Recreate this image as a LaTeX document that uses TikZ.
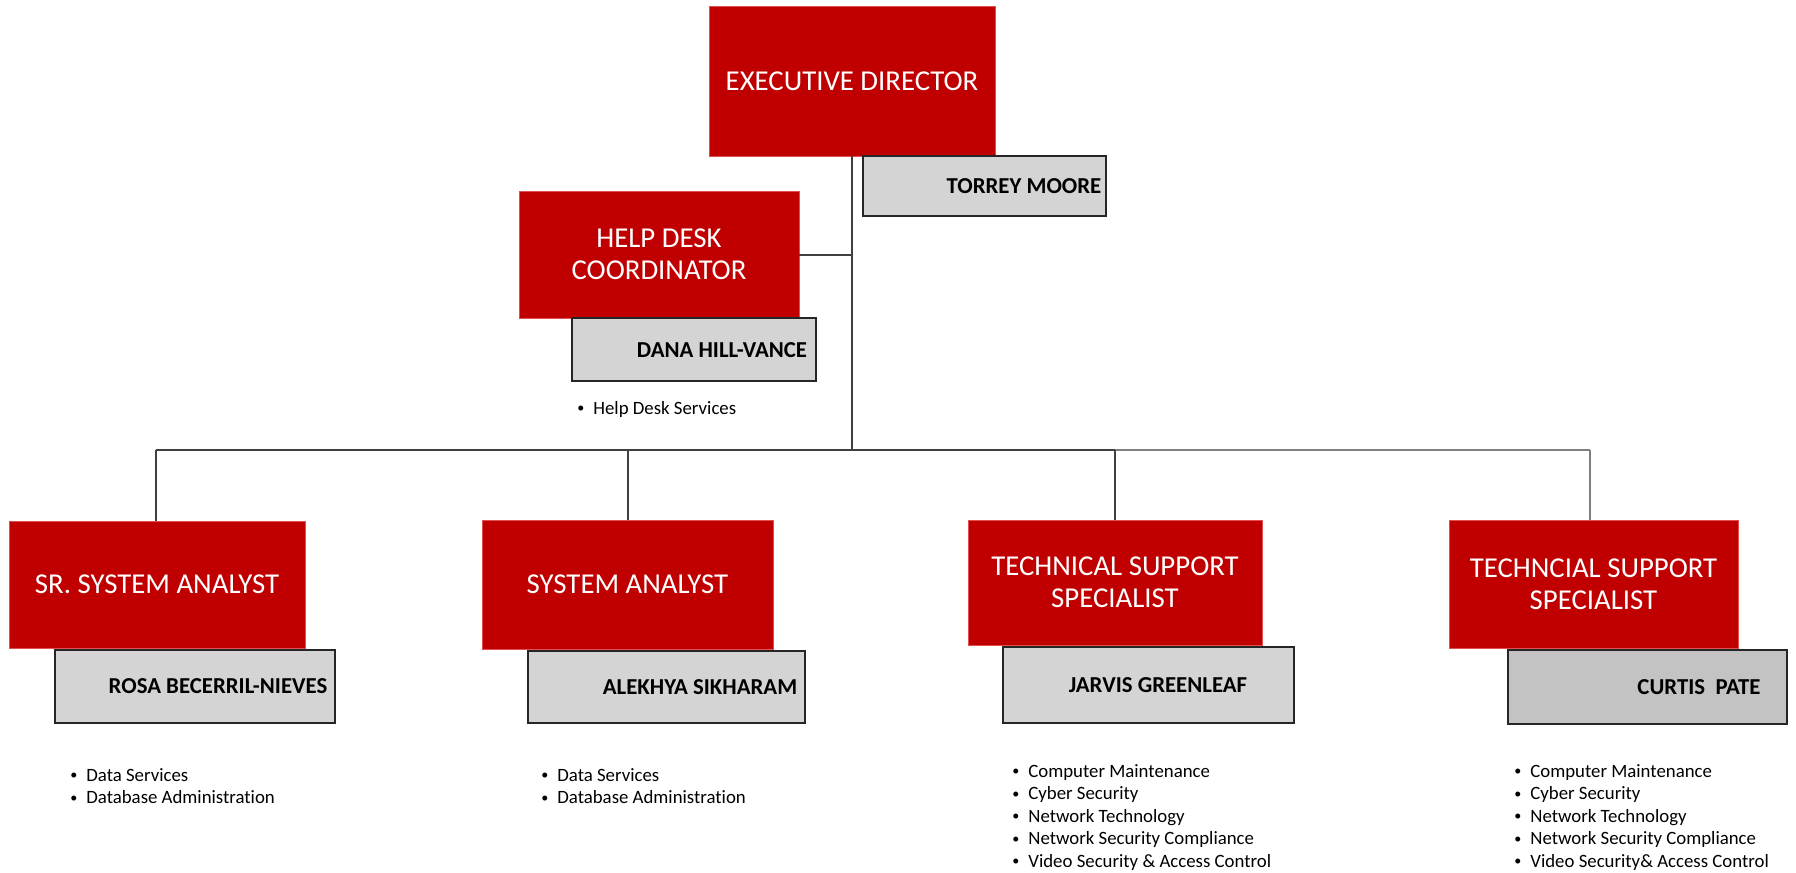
\documentclass[tikz,border=0pt]{standalone}
\usepackage{fontspec}
\setmainfont[Ligatures=NoCommon]{Carlito}
\definecolor{ored}{HTML}{C00000}
\definecolor{oredline}{HTML}{E05050}
\definecolor{ogray}{HTML}{D5D4D5}
\definecolor{ogrDark}{HTML}{C3C3C3}
\definecolor{oline}{HTML}{404040}
\definecolor{olineL}{HTML}{808080}
\newcommand{\mybox}[7]{\node[#1, minimum width={(#5-#3)*0.5pt}, minimum height={(#6-#4)*0.5pt}] (#2) at ({(#3+#5)/2},{(#4+#6)/2}) {#7};}
\newcommand{\bul}[1]{\makebox[8pt][l]{\raisebox{0.6pt}{\scalebox{0.75}{\textbullet}}}#1}
\begin{document}
\begin{tikzpicture}[x=0.5pt,y=-0.5pt,
  titlebox/.style={rectangle, fill=ored, draw=oredline, line width=0.3pt, inner sep=0pt, outer sep=0pt,
    text=white, align=center, font=\fontsize{14.4}{16}\selectfont},
  namebox/.style={rectangle, fill=ogray, draw=black!85, line width=0.9pt, inner sep=0pt, outer sep=0pt},
  namebox2/.style={namebox, fill=ogrDark},
  nametext/.style={inner sep=0pt, font=\fontsize{11.4}{13}\selectfont\bfseries},
  blist/.style={anchor=base west, inner sep=0pt, font=\fontsize{9.4}{11.25}\selectfont},
  conn/.style={draw=oline, line width=1pt},
  connL/.style={draw=olineL, line width=1pt}]
\useasboundingbox (0,0) rectangle (1796,873);

% title boxes
\mybox{titlebox}{exec}{709}{6}{995}{156}{EXECUTIVE DIRECTOR}
\mybox{titlebox}{help}{519}{191}{799}{318}{HELP DESK\\COORDINATOR}
\mybox{titlebox}{sr}{9}{521}{305}{648}{SR. SYSTEM ANALYST}
\mybox{titlebox}{sys}{482}{520}{773}{649}{SYSTEM ANALYST}
\mybox{titlebox}{techA}{968}{520}{1262}{645}{TECHNICAL SUPPORT\\SPECIALIST}
\mybox{titlebox}{techB}{1449}{520}{1738}{648}{TECHNCIAL SUPPORT\\SPECIALIST}

% name boxes
\mybox{namebox}{torrey}{863}{156}{1106}{216}{}
\mybox{namebox}{dana}{572}{318}{816}{381}{}
\mybox{namebox}{rosa}{55}{650}{335}{723}{}
\mybox{namebox}{alekhya}{528}{651}{805}{723}{}
\mybox{namebox}{jarvis}{1003}{647}{1294}{723}{}
\mybox{namebox2}{curtis}{1508}{650}{1787}{724}{}

\node[nametext] (torreyT) at (1024,186) {TORREY MOORE};
\node[nametext] (danaT) at (722,350) {DANA HILL-VANCE};
\node[nametext] (rosaT) at (218,686) {ROSA BECERRIL-NIEVES};
\node[nametext] (alekhyaT) at (700,687) {ALEKHYA SIKHARAM};
\node[nametext] (jarvisT) at (1158,685) {JARVIS GREENLEAF};
\node[nametext] (curtisT) at (1699,687) {CURTIS\ \ PATE};

% connectors
\coordinate (busL) at (156,450);
\coordinate (busM) at (852,450);
\coordinate (busT) at (1115,450);
\coordinate (busR) at (1590,450);
\coordinate (busS) at (628,450);
\draw[conn] (exec.south) -- (busM);
\draw[conn] (help.east) -- (help.east -| busM);
\draw[conn] (busL) -- (busT);
\draw[connL] (busT) -- (busR);
\draw[conn] (busL) -- (busL |- sr.north);
\draw[conn] (busS) -- (busS |- sys.north);
\draw[conn] (busT) -- (busT |- techA.north);
\draw[connL] (busR) -- (busR |- techB.north);

% bullet lists
\node[blist] (helpL) at (577,414) {\begin{tabular}[t]{@{}l@{}}\bul{Help Desk Services}\end{tabular}};
\node[blist] (srL) at (70,781) {\begin{tabular}[t]{@{}l@{}}\bul{Data Services}\\ \bul{Database Administration}\end{tabular}};
\node[blist] (sysL) at (541,781) {\begin{tabular}[t]{@{}l@{}}\bul{Data Services}\\ \bul{Database Administration}\end{tabular}};
\node[blist] (techAL) at (1012,777) {\begin{tabular}[t]{@{}l@{}}\bul{Computer Maintenance}\\ \bul{Cyber Security}\\ \bul{Network Technology}\\ \bul{Network Security Compliance}\\ \bul{Video Security \& Access Control}\end{tabular}};
\node[blist] (techBL) at (1514,777) {\begin{tabular}[t]{@{}l@{}}\bul{Computer Maintenance}\\ \bul{Cyber Security}\\ \bul{Network Technology}\\ \bul{Network Security Compliance}\\ \bul{Video Security\& Access Control}\end{tabular}};
\end{tikzpicture}
\end{document}
